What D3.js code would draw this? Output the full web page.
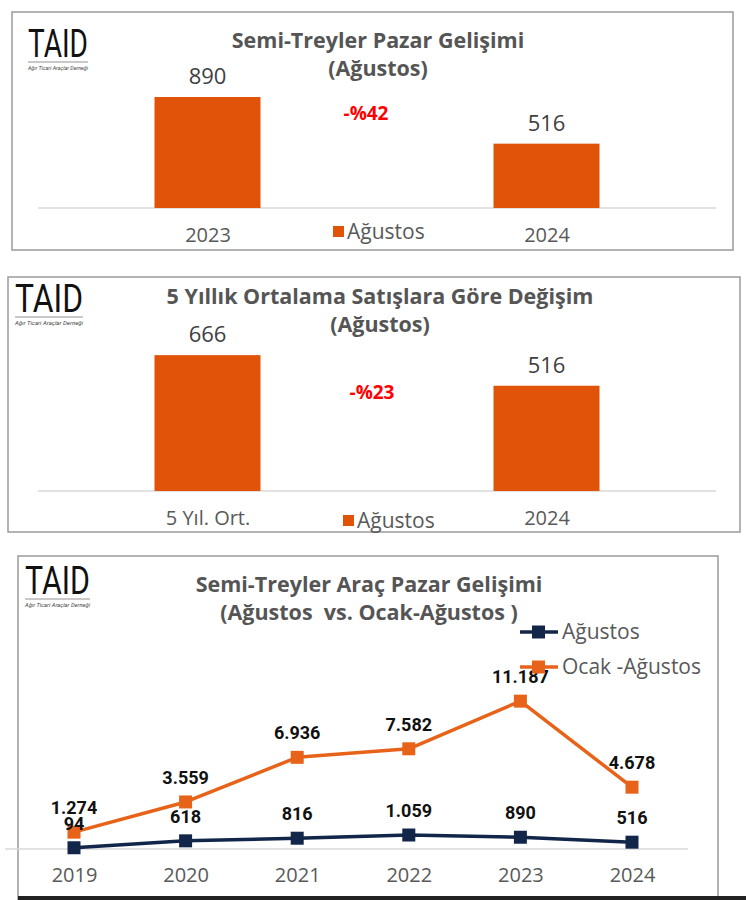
<!DOCTYPE html>
<html><head><meta charset="utf-8">
<script src="https://cdn.jsdelivr.net/npm/d3@7"></script>
<style>
html,body{margin:0;padding:0;background:#fff;}
svg{display:block;}
</style></head>
<body>
<script>
// ---------- DATA ----------
const chart1Categories = ["2023", "2024"];
const chart1Values = [890, 516];
const chart1Title = ["Semi-Treyler Pazar Gelişimi", "(Ağustos)"];
const chart1Change = "-%42";

const chart2Categories = ["5 Yıl. Ort.", "2024"];
const chart2Values = [666, 516];
const chart2Title = ["5 Yıllık Ortalama Satışlara Göre Değişim", "(Ağustos)"];
const chart2Change = "-%23";

const legendBar = "Ağustos";

const chart3Years = ["2019", "2020", "2021", "2022", "2023", "2024"];
const chart3Agustos = [94, 618, 816, 1059, 890, 516];
const chart3OcakAgustos = [1274, 3559, 6936, 7582, 11187, 4678];
const chart3AgustosLabels = ["94", "618", "816", "1.059", "890", "516"];
const chart3OcakLabels = ["1.274", "3.559", "6.936", "7.582", "11.187", "4.678"];
const chart3SeriesNames = ["Ağustos", "Ocak -Ağustos"];
const chart3Title = ["Semi-Treyler Araç Pazar Gelişimi", "(Ağustos  vs. Ocak-Ağustos )"];

// ---------- STYLE ----------
const ORANGE_BAR = "#E2530A";
const ORANGE_LINE = "#E8631A";
const NAVY = "#12264A";
const GRAY_TXT = "#595959";
const TITLE_TXT = "#555555";
const FONT = "'Open Sans', 'DejaVu Sans', sans-serif";
const NARROW = "'Liberation Sans Narrow', 'Arial Narrow', 'Roboto', sans-serif";

const svg = d3.select("body").append("svg").attr("width", 746).attr("height", 900);

function logo(x, y, w) {
  const g = svg.append("g");
  g.append("text").attr("x", x).attr("y", y).text("TAID")
    .attr("font-family", NARROW).attr("font-size", 38).attr("font-weight", 400)
    .attr("fill", "#111").attr("textLength", w).attr("lengthAdjust", "spacingAndGlyphs");
  g.append("line").attr("x1", x).attr("x2", x + w).attr("y1", y + 5).attr("y2", y + 5)
    .attr("stroke", "#777").attr("stroke-width", 0.8);
  g.append("text").attr("x", x).attr("y", y + 13).text("Ağır Ticari Araçlar Derneği")
    .attr("font-family", NARROW).attr("font-size", 5.5).attr("fill", "#444").attr("font-style", "italic")
    .attr("textLength", w).attr("lengthAdjust", "spacingAndGlyphs");
}

function titles(lines, cx, y1, y2, size) {
  [[lines[0], y1], [lines[1], y2]].forEach(([t, yy]) => {
    svg.append("text").attr("x", cx).attr("y", yy).attr("text-anchor", "middle")
      .attr("font-family", FONT).attr("font-weight", 700).attr("font-size", size)
      .attr("fill", TITLE_TXT).style("white-space", "pre").text(t);
  });
}

function barPanel(opts) {
  const {box, cats, vals, title, change, baseY, maxV, pxTop, changePos, legendPos, titleY, logoPos, titleCx} = opts;
  svg.append("rect").attr("x", box[0]).attr("y", box[1]).attr("width", box[2] - box[0]).attr("height", box[3] - box[1])
    .attr("fill", "#fff").attr("stroke", "#9a9a9a").attr("stroke-width", 1.5);
  logo(logoPos[0], logoPos[1], logoPos[2]);
  titles(title, titleCx, titleY[0], titleY[1], 21.5);

  const x = d3.scalePoint().domain(cats).range([38, 716]).padding(0.5);
  const y = d3.scaleLinear().domain([0, maxV]).range([baseY, pxTop]);
  const bw = 106;

  const ax = svg.append("g").attr("transform", `translate(0,${baseY})`)
    .call(d3.axisBottom(x).tickSize(0).tickSizeOuter(0).tickPadding(20));
  ax.select(".domain").attr("stroke", "#D9D9D9").attr("stroke-width", 1.5)
    .attr("d", `M38,0H716`);
  ax.selectAll("text").attr("font-family", FONT).attr("font-size", 20).attr("fill", GRAY_TXT);

  svg.selectAll(null).data(vals).enter().append("rect")
    .attr("x", (d, i) => x(cats[i]) - bw / 2).attr("width", bw)
    .attr("y", d => y(d)).attr("height", d => baseY - y(d)).attr("fill", ORANGE_BAR);

  svg.selectAll(null).data(vals).enter().append("text")
    .attr("x", (d, i) => x(cats[i])).attr("y", d => y(d) - 13)
    .attr("text-anchor", "middle").attr("font-family", FONT).attr("font-size", 22)
    .attr("fill", "#404040").text(d => d);

  svg.append("text").attr("x", changePos[0]).attr("y", changePos[1]).attr("text-anchor", "middle")
    .attr("font-family", FONT).attr("font-weight", 700).attr("font-size", 19)
    .attr("fill", "#FF0000").text(change);

  svg.append("rect").attr("x", legendPos[0]).attr("y", legendPos[1] - 6).attr("width", 11).attr("height", 11)
    .attr("fill", ORANGE_BAR);
  svg.append("text").attr("x", legendPos[0] + 14).attr("y", legendPos[1] + 7)
    .attr("font-family", FONT).attr("font-size", 21).attr("fill", GRAY_TXT).text(legendBar);
}

barPanel({box: [12, 12, 733, 250], cats: chart1Categories, vals: chart1Values, title: chart1Title,
  change: chart1Change, baseY: 208, maxV: 1000, pxTop: 208 - 124.7, changePos: [366, 120],
  legendPos: [333, 232], titleY: [48, 76], logoPos: [28, 57, 60], titleCx: 378});

barPanel({box: [8, 277, 740, 532], cats: chart2Categories, vals: chart2Values, title: chart2Title,
  change: chart2Change, baseY: 491, maxV: 700, pxTop: 491 - 142.8, changePos: [372, 399],
  legendPos: [343, 521], titleY: [304, 332], logoPos: [15, 312, 68], titleCx: 380});

// ---------- Line chart panel ----------
svg.append("rect").attr("x", 18).attr("y", 556).attr("width", 700).attr("height", 350)
  .attr("fill", "#fff").attr("stroke", "#9a9a9a").attr("stroke-width", 1.5);
svg.append("rect").attr("x", 18).attr("y", 896).attr("width", 728).attr("height", 4).attr("fill", "#222");
logo(25, 594, 65);
titles(chart3Title, 369, 592, 620, 21.5);

const x3 = d3.scalePoint().domain(chart3Years).range([74, 632]);
const y3 = d3.scaleLinear().domain([0, 12000]).range([849, 849 - 158.6]);

const ax3 = svg.append("g").attr("transform", "translate(0,849)")
  .call(d3.axisBottom(x3).tickSize(0).tickSizeOuter(0).tickPadding(19));
ax3.select(".domain").attr("stroke", "#D9D9D9").attr("stroke-width", 1.5).attr("d", "M5,0H688");
ax3.selectAll("text").attr("font-family", FONT).attr("font-size", 20).attr("fill", GRAY_TXT);

const line = d3.line().x((d, i) => x3(chart3Years[i])).y(d => y3(d));
const series = [
  {vals: chart3OcakAgustos, labels: chart3OcakLabels, color: ORANGE_LINE},
  {vals: chart3Agustos, labels: chart3AgustosLabels, color: NAVY}
];
series.forEach(s => {
  svg.append("path").datum(s.vals).attr("d", line).attr("fill", "none")
    .attr("stroke", s.color).attr("stroke-width", 3.5).attr("stroke-linejoin", "round");
  svg.selectAll(null).data(s.vals).enter().append("rect")
    .attr("x", (d, i) => x3(chart3Years[i]) - 6.5).attr("y", d => y3(d) - 6.5)
    .attr("width", 13).attr("height", 13).attr("fill", s.color);
});
series.forEach(s => {
  svg.selectAll(null).data(s.vals).enter().append("text")
    .attr("x", (d, i) => x3(chart3Years[i])).attr("y", d => y3(d) - 18)
    .attr("text-anchor", "middle").attr("font-family", NARROW).attr("font-weight", 700)
    .attr("font-size", 18).attr("fill", "#111").text((d, i) => s.labels[i]);
});

// legend
[[NAVY, 632, chart3SeriesNames[0]], [ORANGE_LINE, 667, chart3SeriesNames[1]]].forEach(([c, yy, name]) => {
  svg.append("line").attr("x1", 520).attr("x2", 558).attr("y1", yy).attr("y2", yy)
    .attr("stroke", c).attr("stroke-width", 3.5);
  svg.append("rect").attr("x", 532).attr("y", yy - 6.5).attr("width", 13).attr("height", 13).attr("fill", c);
  svg.append("text").attr("x", 562).attr("y", yy + 7).attr("font-family", FONT).attr("font-size", 21)
    .attr("fill", GRAY_TXT).text(name);
});
</script>
</body></html>
